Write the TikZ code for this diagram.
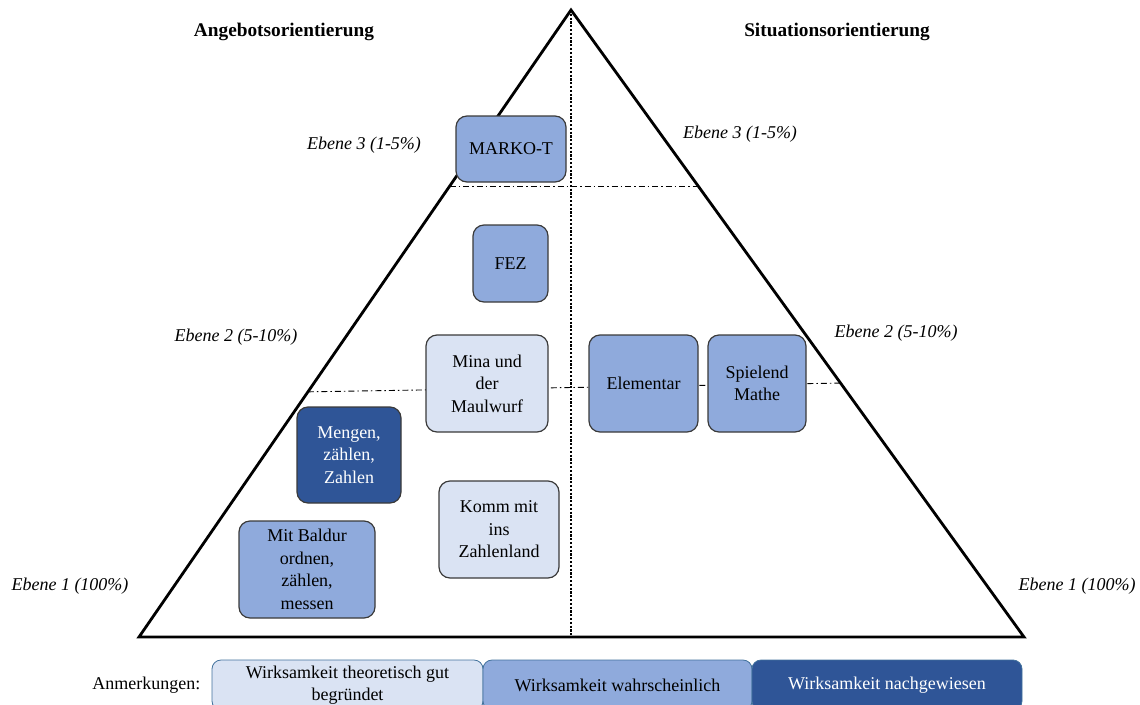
\documentclass[tikz,border=0pt]{standalone}
\usepackage{fontspec}
\setmainfont{LiberationSerif}[Extension=.ttf, UprightFont=*-Regular, BoldFont=*-Bold, ItalicFont=*-Italic, BoldItalicFont=*-BoldItalic]
\usetikzlibrary{calc}
\definecolor{lightb}{HTML}{DAE3F3}
\definecolor{medb}{HTML}{8FAADC}
\definecolor{darkb}{HTML}{2F5597}
\definecolor{boxline}{HTML}{3A3A3A}
\definecolor{legline}{HTML}{41719C}
\begin{document}
\begin{tikzpicture}[x=1pt,y=-1pt,
  box/.style={draw=boxline, line width=1.2pt, rounded corners=11pt, align=center,
    font=\fontsize{18}{22.5}\selectfont, inner sep=2pt},
  legbox/.style={draw=legline, line width=0.8pt, rounded corners=9pt, align=center,
    font=\fontsize{18}{22}\selectfont, inner sep=2pt, minimum height=50pt},
  lbl/.style={font=\fontsize{18}{21}\selectfont\itshape},
  ttl/.style={font=\fontsize{19.3}{22}\selectfont\bfseries},
  tri/.style={line width=2.8pt, line join=miter},
  ddline/.style={line width=0.9pt, dash pattern=on 6pt off 3pt on 1.5pt off 3pt},
  dotline/.style={line width=2.6pt, dash pattern=on 2.2pt off 1.6pt}]
\clip (0,0) rectangle (1140,704);
% triangle
\coordinate (apex) at (571,10);
\coordinate (bl) at (139,637);
\coordinate (br) at (1024,637);
\coordinate (bm) at (571,637);
\coordinate (l3) at ($(apex)!0.2807!(bl)$);
\coordinate (r3) at ($(apex)!0.2807!(br)$);
\coordinate (l2) at ($(apex)!0.609!(bl)$);
\coordinate (r2) at ($(apex)!0.595!(br)$);
\draw[ddline] (l3) -- (r3);
\draw[ddline] (l2) -- (r2);
\draw[dotline] (apex) -- (bm);
\draw[tri] (bl) -- (apex) -- (br) -- cycle;
% titles and level labels
\node[ttl] (angebot) at (284,32) {Angebotsorientierung};
\node[ttl] (situation) at (837,32) {Situationsorientierung};
\node[lbl] (e3l) at (364,145) {Ebene 3 (1-5\%)};
\node[lbl] (e3r) at (740,134) {Ebene 3 (1-5\%)};
\node[lbl] (e2l) at (236,337) {Ebene 2 (5-10\%)};
\node[lbl] (e2r) at (896,333) {Ebene 2 (5-10\%)};
\node[lbl] (e1l) at (70,586) {Ebene 1 (100\%)};
\node[lbl] (e1r) at (1077,586) {Ebene 1 (100\%)};
% boxes
\node[box, fill=medb, minimum width=110pt, minimum height=66pt] (marko) at (511,149) {MARKO-T};
\node[box, fill=medb, minimum width=75pt, minimum height=77pt] (fez) at (510.5,263.5) {FEZ};
\node[box, fill=lightb, minimum width=122pt, minimum height=97pt] (mina) at (487,383.5) {Mina und\\der\\Maulwurf};
\node[box, fill=medb, minimum width=109pt, minimum height=97pt] (elem) at (643.5,383.5) {Elementar};
\node[box, fill=medb, minimum width=98pt, minimum height=97pt] (spiel) at (757,383.5) {Spielend\\Mathe};
\node[box, fill=darkb, text=white, minimum width=104pt, minimum height=96pt] (mengen) at (349,455) {Mengen,\\zählen,\\Zahlen};
\node[box, fill=lightb, minimum width=120pt, minimum height=97pt] (komm) at (499,529.5) {Komm mit\\ins\\Zahlenland};
\node[box, fill=medb, minimum width=136pt, minimum height=97pt] (baldur) at (307,569.5) {Mit Baldur\\ordnen,\\zählen,\\messen};
% legend
\node[font=\fontsize{18}{21}\selectfont, anchor=east] (anm) at (204,685) {Anmerkungen:};
\node[legbox, fill=lightb, minimum width=271pt] (leg1) at (347.5,685) {Wirksamkeit theoretisch gut\\begründet};
\node[legbox, fill=medb, minimum width=269pt] (leg2) at (617.5,685) {Wirksamkeit wahrscheinlich};
\node[legbox, fill=darkb, text=white, minimum width=270pt] (leg3) at (887,685) {Wirksamkeit nachgewiesen};
\end{tikzpicture}
\end{document}
